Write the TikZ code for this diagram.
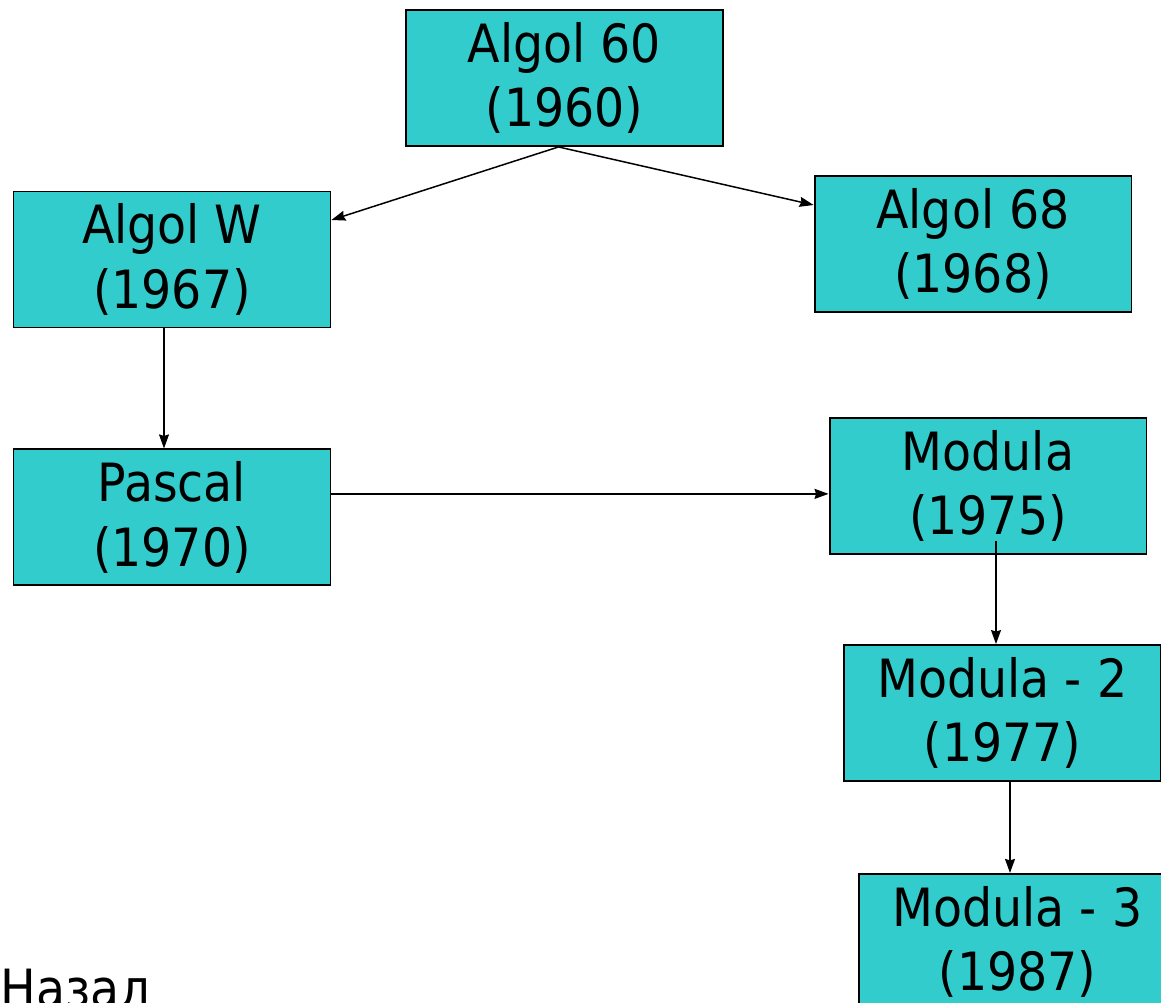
\documentclass[tikz,border=0pt]{standalone}
\usepackage{fontspec}
\setmainfont{DejaVu Sans Condensed}
\usetikzlibrary{calc,positioning}
\usetikzlibrary{arrows.meta}
\definecolor{langfill}{HTML}{33CCCC}

\begin{document}
\begin{tikzpicture}[%
    x=0.02cm, y=-0.02cm,
    text=black,
    node font=\fontsize{30pt}{36.8pt}\selectfont,
    >={Stealth[length=0.28cm,width=0.2cm,inset=0.03cm]},
    lang/.style={rectangle, draw, fill=langfill, line width=1.1pt,
      minimum width=6.34cm, minimum height=2.72cm, align=center,
      inner sep=0pt},
    link/.style={->, line width=0.85pt}]

  \clip (0,0) rectangle (1161,1003);

  %
  \node (A60) at (564.5,78) [lang] {Algol 60\\(1960)};

  \node (AW) at (172,259.5) [lang] {Algol W\\(1967)};
  \node (A68) at (973,244) [lang] {Algol 68\\(1968)};

  \node (PAS) [below=2.4cm of AW, lang] {Pascal\\(1970)};
  \node (MOD) at (988,486) [lang] {Modula\\(1975)};

  \node (MOD2) at (1002.5,713) [lang] {Modula - 2\\(1977)};
  \node (MOD3) [below=1.82cm of MOD2, xshift=0.3cm, lang] {Modula - 3\\(1987)};

  % --- links ------------------------
  \coordinate (A60s) at ($(A60.south)+(-0.12cm,0)$);
  \draw[link] (A60s) -- ($(AW.east)+(0,0.79cm)$);
  \draw[link] (A60s) -- ($(A68.west)+(0,0.78cm)$);

  \draw[link] ([xshift=-0.16cm]AW.south) -- ([xshift=-0.16cm]PAS.north);

  \coordinate (PASe) at ($(PAS.east)+(0,0.47cm)$);
  \draw[link] (PASe) -- (PASe -| MOD.west);

  \coordinate (MODs) at ($(MOD.south)+(0.16cm,0.28cm)$);
  \draw[link] (MODs) -- (MODs |- MOD2.north);

  \coordinate (MOD2s) at ($(MOD2.south)+(0.15cm,0)$);
  \draw[link] (MOD2s) -- (MOD2s |- MOD3.north);

  % --- back -------------------------
  \node (BACK) at (0,1007) [anchor=base west, inner sep=0pt] {Назад};
\end{tikzpicture}
\end{document}
